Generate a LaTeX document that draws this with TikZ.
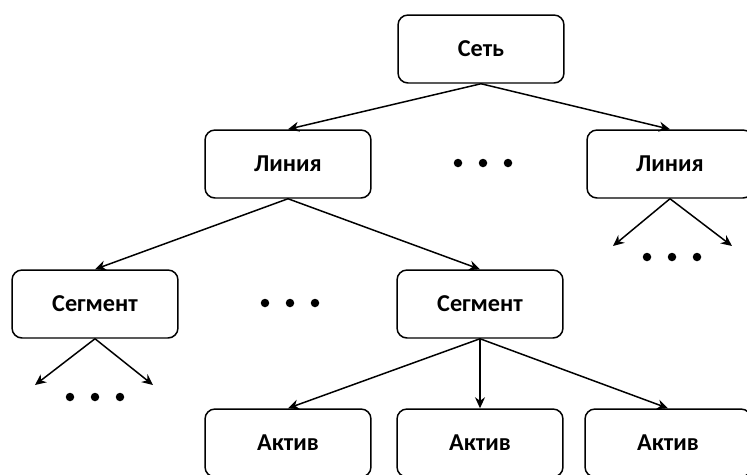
\documentclass[tikz,border=0pt]{standalone}
\usepackage{fontspec}
\setmainfont{Carlito}
\usetikzlibrary{arrows.meta, positioning}

\begin{document}
\begin{tikzpicture}[x=0.02cm, y=-0.02cm, line width=0.85pt]
  % Define styles for the boxes and arrows
  \tikzstyle{box}=[draw, rounded corners=0.2cm, minimum width=3.32cm, minimum height=1.36cm, font=\fontsize{13.8}{16}\selectfont\bfseries, inner sep=0pt]
  \tikzstyle{arr}=[-{Stealth[length=2.2mm, width=2mm]}]
  \tikzstyle{dot}=[circle, fill=black, minimum size=0.17cm, inner sep=0pt]

  \useasboundingbox (0,0) rectangle (747,474);

  % Boxes
  \node[box] (net) at (481,49) {Сеть};
  \node[box] (line1) at (288,164) {Линия};
  \node[box] (line2) at (670,164) {Линия};
  \node[box] (seg1) at (95,304) {Сегмент};
  \node[box] (seg2) at (480,304) {Сегмент};
  \node[box] (act1) at (288,443) {Актив};
  \node[box] (act2) at (480,443) {Актив};
  \node[box] (act3) at (668,443) {Актив};

  % Dots
  \foreach \x/\y/\n in {483/163/a, 290/303/b, 672/257/c, 95/397/d} {
    \node[dot] (dots\n) at (\x,\y) {};
    \node[dot] (dots\n l) at (\x-25,\y) {};
    \node[dot] (dots\n r) at (\x+25,\y) {};
  }

  % Free ends of the arrows
  \coordinate (l2a) at (613,246);
  \coordinate (l2b) at (732,246);
  \coordinate (s1a) at (35,385);
  \coordinate (s1b) at (153,385);

  % Arrows
  \draw[arr] (net.south) -- (line1.north);
  \draw[arr] (net.south) -- (line2.north);
  \draw[arr] (line1.south) -- (seg1.north);
  \draw[arr] (line1.south) -- (seg2.north);
  \draw[arr] (line2.south) -- (l2a);
  \draw[arr] (line2.south) -- (l2b);
  \draw[arr] (seg1.south) -- (s1a);
  \draw[arr] (seg1.south) -- (s1b);
  \draw[arr] (seg2.south) -- (act1.north);
  \draw[arr] (seg2.south) -- (act2.north);
  \draw[arr] (seg2.south) -- (act3.north);
\end{tikzpicture}
\end{document}
